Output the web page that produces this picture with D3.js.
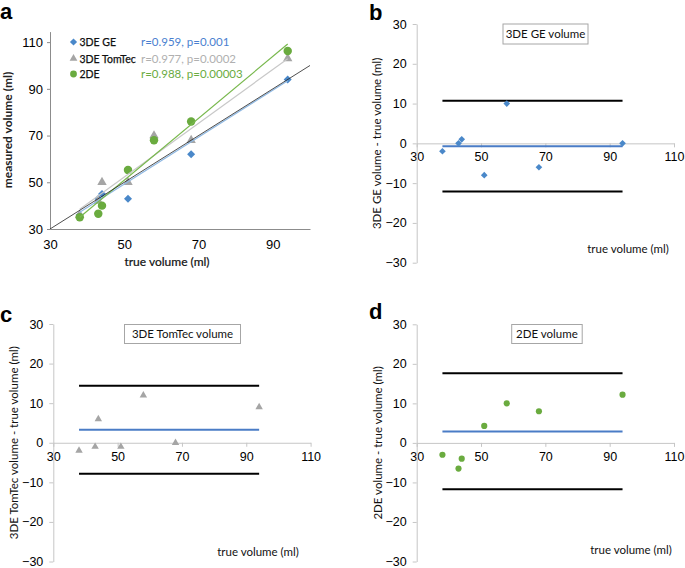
<!DOCTYPE html>
<html>
<head>
<meta charset="utf-8">
<script src="https://cdn.jsdelivr.net/npm/d3@7"></script>
<style>
  body { margin: 0; background: #fff; }
  svg { display: block; }
</style>
</head>
<body>
<svg width="685" height="568"></svg>
<script>
// values
var trueVol   = [38, 43, 44, 51, 58, 68, 94];
var geVol     = [36, 43, 45, 43, 68, 62, 94];
var tomtecVol = [36, 42, 50, 50, 70, 68, 103];
var twoDVol   = [35, 36.5, 40, 55.3, 68, 76, 106.2];

var geDiff     = [-2, 0, 1, -8, 10, -6, 0];
var tomtecDiff = [-2, -1, 6, -1, 12, 0, 9];
var twoDDiff   = [-3, -6.5, -4, 4.3, 10, 8, 12.2];

var baMean  = [-0.7, 3.3, 2.9];
var baUpper = [10.7, 14.4, 17.6];
var baLower = [-12.1, -7.8, -11.7];

var fitX      = [38, 94];
var geFit     = [37.2, 93.5];
var tomtecFit = [38.5, 102.9];
var twoDFit   = [35.0, 109.2];
var identity  = [30, 100];

var seriesNames = ["3DE GE", "3DE TomTec", "2DE"];
var statsText = ["r=0.959, p=0.001", "r=0.977, p=0.0002", "r=0.988, p=0.00003"];
var baTitles = ["3DE GE volume", "3DE TomTec volume", "2DE volume"];
var baYLabels = ["3DE GE volume - true volume (ml)", "3DE TomTec volume - true volume (ml)", "2DE volume - true volume (ml)"];

var blue = "#4a88c9", gray = "#a5a5a5", green = "#6aab3f";
var calibri = "Lato, 'Open Sans', sans-serif";
var arial = "'Liberation Sans', Arial, sans-serif";

var svg = d3.select("svg");

function marker(sel, kind, size, color) {
    if (kind == "diamond") {
        sel.attr("d", d3.symbol().type(d3.symbolSquare).size(size))
           .attr("fill", color);
    } else if (kind == "triangle") {
        sel.attr("d", d3.symbol().type(d3.symbolTriangle).size(size))
           .attr("fill", color);
    } else {
        sel.attr("d", d3.symbol().type(d3.symbolCircle).size(size))
           .attr("fill", color);
    }
}

// ---------- panel a ----------
var ax = d3.scaleLinear().domain([30, 100]).range([50, 310]);
var ay = d3.scaleLinear().domain([30, 114.5]).range([229, 31.6]);

var ga = svg.append("g");

ga.append("g")
  .attr("transform", "translate(0,229)")
  .call(d3.axisBottom(ax).tickValues([30, 50, 70, 90]).tickSize(0).tickPadding(11))
  .call(function (g) {
      g.select(".domain").attr("stroke", "#8c8c8c");
      g.selectAll("text").attr("font-family", arial).attr("font-size", "13px").attr("fill", "#000");
  });

ga.append("g")
  .attr("transform", "translate(50,0)")
  .call(d3.axisLeft(ay).tickValues([30, 50, 70, 90, 110]).tickSize(3).tickSizeOuter(0).tickPadding(4))
  .call(function (g) {
      g.select(".domain").attr("stroke", "#8c8c8c");
      g.selectAll("line").attr("stroke", "#8c8c8c");
      g.selectAll("text").attr("font-family", arial).attr("font-size", "13px").attr("fill", "#000");
  });

var pts = [
    { vals: geVol, kind: "diamond", size: 32, color: blue },
    { vals: tomtecVol, kind: "triangle", size: 38, color: gray },
    { vals: twoDVol, kind: "circle", size: 56, color: green }
];
pts.forEach(function (s) {
    ga.append("g").selectAll("path")
      .data(trueVol)
      .enter()
      .append("path")
      .attr("transform", function (d, i) {
          return "translate(" + ax(d) + "," + ay(s.vals[i]) + ")" + (s.kind == "diamond" ? " rotate(45)" : "");
      })
      .call(marker, s.kind, s.size, s.color);
});

var fits = [
    { xs: fitX, ys: geFit, color: "#8fb8e2", w: 1.2 },
    { xs: fitX, ys: tomtecFit, color: "#c8c8c8", w: 1.2 },
    { xs: fitX, ys: twoDFit, color: "#78b84d", w: 1.2 },
    { xs: identity, ys: identity, color: "#222", w: 0.8 }
];
fits.forEach(function (f) {
    ga.append("line")
      .attr("x1", ax(f.xs[0])).attr("y1", ay(f.ys[0]))
      .attr("x2", ax(f.xs[1])).attr("y2", ay(f.ys[1]))
      .attr("stroke", f.color)
      .attr("stroke-width", f.w);
});

// legend
var legY = [42, 58.5, 74];
pts.forEach(function (s, i) {
    ga.append("path")
      .attr("transform", "translate(73.5," + legY[i] + ")" + (s.kind == "diamond" ? " rotate(45)" : ""))
      .call(marker, s.kind, s.kind == "circle" ? 36 : 26, s.color);
    ga.append("text")
      .attr("x", 79.5).attr("y", legY[i] + 4)
      .attr("font-family", calibri).attr("font-size", "10.5px")
      .attr("fill", "#111")
      .attr("stroke", "#111").attr("stroke-width", 0.25)
      .text(seriesNames[i]);
    ga.append("text")
      .attr("x", 141).attr("y", legY[i] + 4)
      .attr("font-family", calibri).attr("font-size", "11.5px")
      .attr("fill", [ "#4a7fd0", "#b0b0b0", "#6aab3f" ][i])
      .text(statsText[i]);
});

ga.append("text")
  .attr("x", 167).attr("y", 266)
  .attr("text-anchor", "middle")
  .attr("font-family", calibri).attr("font-size", "12px")
  .attr("fill", "#111")
  .attr("stroke", "#111").attr("stroke-width", 0.2)
  .text("true volume (ml)");

ga.append("text")
  .attr("transform", "translate(12,130) rotate(-90)")
  .attr("text-anchor", "middle")
  .attr("font-family", calibri).attr("font-size", "12px").attr("font-weight", "bold")
  .attr("fill", "#222")
  .text("measured volume (ml)");

// ---------- Bland-Altman panels ----------
var baPanels = [
    { x0: 416.7, top: 24, bottom: 262.7, diffs: geDiff, kind: "diamond", size: 22, color: blue,
      box: [503, 24, 85, 20], xlab: [628, 253], ylabX: 377, letter: "b", lx: 369, ly: 20 },
    { x0: 53.3, top: 324, bottom: 561.5, diffs: tomtecDiff, kind: "triangle", size: 24, color: gray,
      box: [124.5, 324.5, 116, 19], xlab: [258, 556], ylabX: 14, letter: "c", lx: 0, ly: 322 },
    { x0: 416.7, top: 324.3, bottom: 561.5, diffs: twoDDiff, kind: "circle", size: 30, color: green,
      box: [511.7, 324.5, 70.5, 19], xlab: [631, 554], ylabX: 377.5, letter: "d", lx: 369, ly: 319 }
];

baPanels.forEach(function (p, k) {
    var x = d3.scaleLinear().domain([30, 110]).range([p.x0, p.x0 + 257.3]);
    var y = d3.scaleLinear().domain([-30, 30]).range([p.bottom, p.top]);
    var g = svg.append("g");

    g.append("g")
      .attr("transform", "translate(0," + y(0) + ")")
      .call(d3.axisBottom(x).tickValues([30, 50, 70, 90, 110]).tickSize(4).tickSizeOuter(0).tickPadding(5))
      .call(function (a) {
          a.select(".domain").attr("stroke", "#c6c6c6");
          a.selectAll("line").attr("stroke", "#c6c6c6");
          a.selectAll("text").attr("font-family", arial).attr("font-size", "12.5px").attr("fill", "#000");
      });

    g.append("g")
      .attr("transform", "translate(" + p.x0 + ",0)")
      .call(d3.axisLeft(y).tickValues([-30, -20, -10, 0, 10, 20, 30]).tickSize(4).tickSizeOuter(0).tickPadding(6))
      .call(function (a) {
          a.select(".domain").attr("stroke", "#c6c6c6");
          a.selectAll("line").attr("stroke", "#c6c6c6");
          a.selectAll("text").attr("font-family", arial).attr("font-size", "12.5px").attr("fill", "#000");
      });

    var limits = [
        { v: baUpper[k], c: "#000" },
        { v: baLower[k], c: "#000" },
        { v: baMean[k], c: "#4a7cc6" }
    ];
    g.selectAll(".lim")
      .data(limits)
      .enter()
      .append("line")
      .attr("x1", x(fitX[0])).attr("x2", x(fitX[1]))
      .attr("y1", function (d) { return y(d.v); })
      .attr("y2", function (d) { return y(d.v); })
      .attr("stroke", function (d) { return d.c; })
      .attr("stroke-width", 2);

    g.append("g").selectAll("path")
      .data(trueVol)
      .enter()
      .append("path")
      .attr("transform", function (d, i) {
          return "translate(" + x(d) + "," + y(p.diffs[i]) + ")" + (p.kind == "diamond" ? " rotate(45)" : "");
      })
      .call(marker, p.kind, p.size, p.color);

    g.append("rect")
      .attr("x", p.box[0]).attr("y", p.box[1])
      .attr("width", p.box[2]).attr("height", p.box[3])
      .attr("fill", "#fff").attr("stroke", "#a6a6a6");
    g.append("text")
      .attr("x", p.box[0] + p.box[2] / 2).attr("y", p.box[1] + p.box[3] / 2 + 4)
      .attr("text-anchor", "middle")
      .attr("font-family", calibri).attr("font-size", "11.5px")
      .attr("fill", "#111")
      .text(baTitles[k]);

    g.append("text")
      .attr("x", p.xlab[0]).attr("y", p.xlab[1])
      .attr("text-anchor", "middle")
      .attr("font-family", calibri).attr("font-size", "11.5px")
      .attr("fill", "#111")
      .text("true volume (ml)");

    g.append("text")
      .attr("transform", "translate(" + p.ylabX + "," + ((p.top + p.bottom) / 2) + ") rotate(-90)")
      .attr("text-anchor", "middle")
      .attr("dy", "0.35em")
      .attr("font-family", calibri).attr("font-size", "11.5px")
      .attr("fill", "#111")
      .text(baYLabels[k]);

    g.append("text")
      .attr("x", p.lx).attr("y", p.ly)
      .attr("font-family", arial).attr("font-size", "22px").attr("font-weight", "bold")
      .text(p.letter);
});

svg.append("text")
  .attr("x", 0).attr("y", 19)
  .attr("font-family", arial).attr("font-size", "22px").attr("font-weight", "bold")
  .text("a");
</script>
</body>
</html>
